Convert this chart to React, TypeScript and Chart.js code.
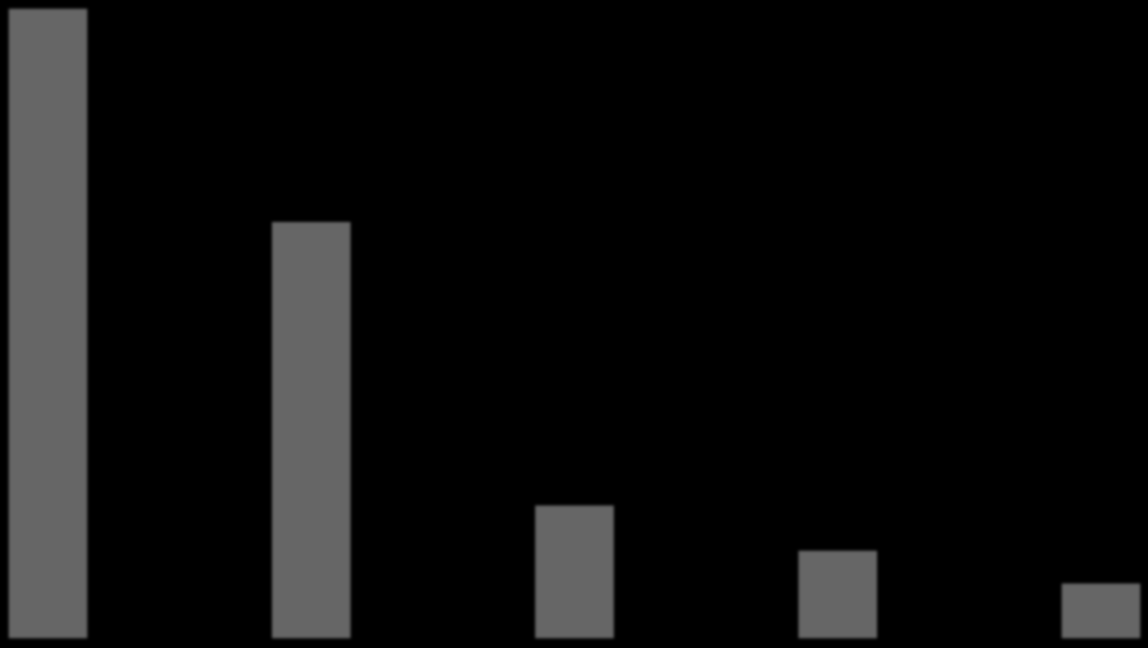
import { useEffect, useRef } from 'react'
import { Chart, registerables } from 'chart.js'

Chart.register(...registerables)

// five categories, no visible labels in the picture
const categories = ['A', 'B', 'C', 'D', 'E']
const values = [100, 66.1, 21, 13.8, 8.6]
const yMax = 100

export default function App() {
  const canvasRef = useRef<HTMLCanvasElement>(null)
  const chartRef = useRef<Chart | null>(null)

  useEffect(() => {
    document.body.style.margin = '0'
    document.body.style.background = '#000'
    if (!canvasRef.current) return
    if (chartRef.current) chartRef.current.destroy()

    chartRef.current = new Chart(canvasRef.current, {
      type: 'bar',
      data: {
        labels: categories,
        datasets: [
          {
            data: values,
            backgroundColor: '#666666',
            borderWidth: 0,
            barThickness: 78,
            clip: false,
          },
        ],
      },
      options: {
        responsive: true,
        maintainAspectRatio: false,
        animation: false,
        layout: { padding: { top: 9, bottom: 10, left: 48, right: 47 } },
        plugins: {
          legend: { display: false },
          tooltip: { enabled: false },
        },
        scales: {
          x: { display: false, offset: false },
          y: { display: false, min: 0, max: yMax },
        },
      },
    })

    return () => { chartRef.current?.destroy() }
  }, [])

  return (
    <div style={{ position: 'fixed', left: 0, top: 0, width: 1148, height: 648, background: '#000' }}>
      <canvas ref={canvasRef} style={{ filter: 'blur(1.5px)' }} />
    </div>
  )
}
